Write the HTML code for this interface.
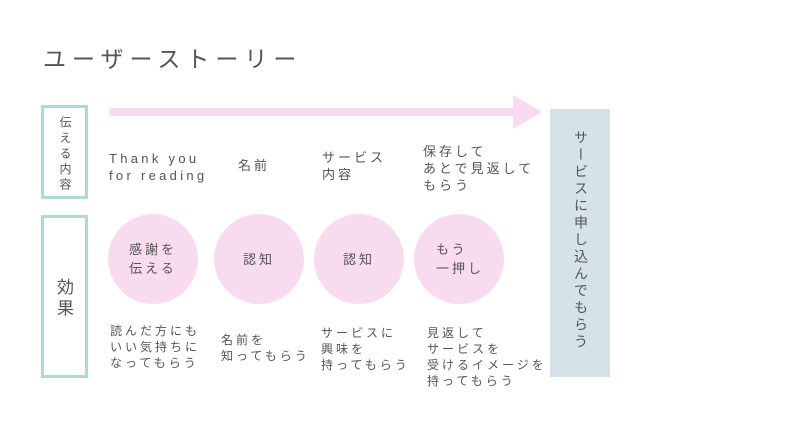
<!DOCTYPE html>
<html><head><meta charset="utf-8"><style>
body{margin:0;width:800px;height:440px;background:#fff;position:relative;overflow:hidden;font-family:"Liberation Sans","Noto Sans CJK JP",sans-serif;color:#555}
.a{position:absolute;white-space:nowrap}
.t{font-size:13px;letter-spacing:3px;line-height:17px}
.s{font-size:12px;letter-spacing:3px;line-height:16px}
.box{position:absolute;border:3px solid #a9dcd9;box-sizing:border-box}
.c{position:absolute;width:90px;height:90px;border-radius:50%;background:#f9dbef;display:flex;align-items:center;justify-content:center;text-align:center;font-size:13px;letter-spacing:3px;line-height:19px}
.v{writing-mode:vertical-rl;letter-spacing:2px}
</style></head><body>
<div class="a" style="left:43px;top:40px;font-size:23px;letter-spacing:6px;color:#555">ユーザーストーリー</div>
<div class="a" style="left:109px;top:108px;width:406px;height:8px;background:#f9dbef"></div>
<div class="a" style="left:513px;top:95px;width:0;height:0;border-top:17px solid transparent;border-bottom:17px solid transparent;border-left:29px solid #f9dbef"></div>
<div class="a" style="left:550px;top:109px;width:60px;height:268px;background:#d5e3e9"></div>
<div class="a v" style="left:571px;top:130px;font-size:14px;letter-spacing:3px">サービスに申し込んでもらう</div>
<div class="box" style="left:41px;top:105px;width:47px;height:94px"></div>
<div class="a v" style="left:57px;top:116px;font-size:12px;letter-spacing:3.5px">伝える内容</div>
<div class="box" style="left:41px;top:215px;width:47px;height:163px"></div>
<div class="a v" style="left:51px;top:278px;font-size:17px;letter-spacing:4px">効果</div>
<div class="a t" style="left:109px;top:150px;letter-spacing:3.3px">Thank you<br>for reading</div>
<div class="a t" style="left:238px;top:157px">名前</div>
<div class="a t" style="left:322px;top:149px">サービス<br>内容</div>
<div class="a t" style="left:423px;top:143px">保存して<br>あとで見返して<br>もらう</div>
<div class="c" style="left:108px;top:214px">感謝を<br>伝える</div>
<div class="c" style="left:214px;top:214px">認知</div>
<div class="c" style="left:314px;top:214px">認知</div>
<div class="c" style="left:414px;top:214px;justify-content:flex-start;text-align:left;padding-left:22px;box-sizing:border-box">もう<br>一押し</div>
<div class="a s" style="left:110px;top:323px">読んだ方にも<br>いい気持ちに<br>なってもらう</div>
<div class="a s" style="left:221px;top:332px">名前を<br>知ってもらう</div>
<div class="a s" style="left:321px;top:325px">サービスに<br>興味を<br>持ってもらう</div>
<div class="a s" style="left:427px;top:325px">見返して<br>サービスを<br>受けるイメージを<br>持ってもらう</div>
</body></html>
